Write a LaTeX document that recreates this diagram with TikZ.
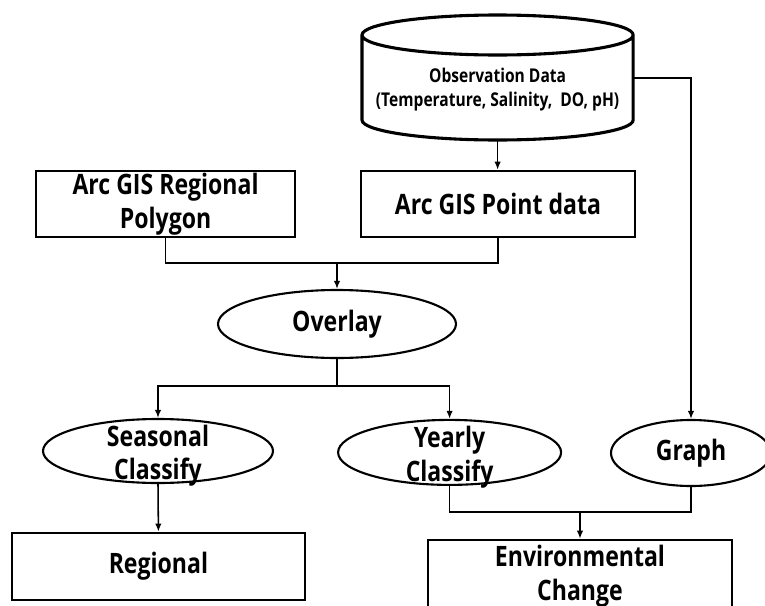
\documentclass[tikz,border=0pt]{standalone}
\usepackage{fontspec}
\setmainfont{Open Sans}[FakeStretch=0.82]
\usetikzlibrary{arrows.meta,shapes.geometric}

% two-line text that does not grow the ellipse
\newcommand{\ovaltext}[1]{\smash{\raisebox{-9pt}{\begin{tabular}[c]{@{}c@{}}#1\end{tabular}}}}

\begin{document}
\begin{tikzpicture}[>={Latex[length=2mm,width=1.6mm]},
  box node/.style={draw,line width=1.8pt,inner sep=0pt,align=center,font=\fontsize{20}{24}\selectfont\bfseries},
  oval node/.style={ellipse,draw,line width=1.5pt,inner sep=0pt,font=\fontsize{20}{24}\selectfont\bfseries},
  db node/.style={inner sep=0pt,align=center,font=\fontsize{13.5}{17}\selectfont\bfseries},
  db line/.style={line width=2.2pt},
  link/.style={line width=1.1pt}]

\useasboundingbox (0,0) rectangle (19.125,-15.15);

% database drum
\draw[db line] (9.05,-0.875) -- (9.05,-3.0) arc[start angle=180,end angle=360,x radius=3.39cm,y radius=0.5cm]
  -- (15.83,-0.875) arc[start angle=0,end angle=360,x radius=3.39cm,y radius=0.5cm];
\node at (12.44,-2.25) [db node] (obs) {Observation Data\\(Temperature, Salinity,\ \ DO, pH)};
\coordinate (obsbot) at (12.44,-3.5);
\coordinate (obsright) at (15.83,-1.95);

\node at (4.14,-5.1) [box node,minimum width=6.475cm,minimum height=1.65cm] (poly) {Arc GIS Regional\\Polygon};
\node at (12.45,-5.1) [box node,minimum width=6.85cm,minimum height=1.65cm] (pt) {Arc GIS Point data};

\node at (8.425,-8.1) [oval node,minimum width=5.95cm,minimum height=1.7cm] (ov) {Overlay};

\node at (3.95,-11.275) [oval node,minimum width=5.75cm,minimum height=1.6cm] (sea) {\ovaltext{Seasonal\\Classify}};
\node at (11.24,-11.31) [oval node,minimum width=5.575cm,minimum height=1.625cm] (yr) {\ovaltext{Yearly\\Classify}};
\node at (17.275,-11.325) [oval node,minimum width=4cm,minimum height=1.65cm] (gr) {Graph};

\node at (3.96,-14.16) [box node,minimum width=7.325cm,minimum height=1.675cm] (reg) {Regional};
\node at (14.5,-14.4) [box node,minimum width=7.6cm,minimum height=1.8cm] (env) {Environmental\\Change};

\coordinate (j1) at (8.425,-6.575);
\coordinate (j2) at (8.425,-9.65);
\coordinate (j3) at (14.5,-12.8);

\draw[link,->] (obsbot) -- (obsbot |- pt.north);
\draw[link,->] (obsright) -| (gr.north);
\draw[link] (poly.south) |- (j1) -| (pt.south);
\draw[link,->] (j1) -- (ov.north);
\draw[link] (ov.south) -- (j2);
\draw[link,->] (j2) -| (sea.north);
\draw[link,->] (j2) -| (yr.north);
\draw[link,->] (sea.south) -- (reg.north);
\draw[link] (yr.south) |- (j3) -| (gr.south);
\draw[link,->] (j3) -- (env.north);

\end{tikzpicture}
\end{document}
